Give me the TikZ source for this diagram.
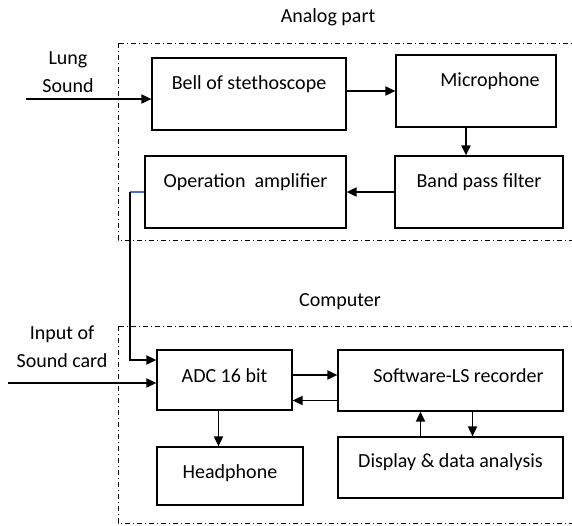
\documentclass[tikz,border=0pt]{standalone}
\usepackage{fontspec}
\setmainfont{Carlito}
\usetikzlibrary{arrows.meta, calc}
\definecolor{tapblue}{RGB}{68,114,196}
\tikzset{
  blk/.style  = {rectangle, draw=black, line width=0.6pt, fill=white, text height=7pt, inner sep=3pt},
  ablk/.style = {blk, text depth=12pt, minimum height=36pt},
  cblk/.style = {blk, text depth=5pt, minimum height=30pt},
  conn/.style = {-{Triangle[length=5pt, width=4.5pt]}, line width=0.9pt},
  grp/.style  = {line width=0.5pt, dash pattern=on 2.5pt off 1.5pt on 0.5pt off 1.5pt},
}

\begin{document}
\begin{tikzpicture}[x=0.5pt, y=-0.5pt, every node/.style={font=\fontsize{10}{14}\selectfont}]
    \clip (0,0) rectangle (572,525);

    % dash-dot frames
    \draw[grp] (118,43) rectangle (590,240);
    \draw[grp] (118,326) rectangle (590,523);
    \node (analogtxt) at (328,17) {Analog part};
    \node (comptxt) at (340,302) {Computer};

    % analog part
    \node[ablk, minimum width=97pt] (bell) at (249,94) {Bell of stethoscope};
    \node[ablk, minimum width=80pt] (mic) at (476,91) {\hspace*{14pt}Microphone};
    \node[ablk, minimum width=84pt] (bpf) at (479,192) {Band pass filter};
    \node[ablk, minimum width=100.5pt] (opamp) at (245.5,192) {Operation\ \ amplifier};

    % computer
    \node[cblk, minimum width=67.5pt] (adc) at (224.5,380) {ADC 16 bit};
    \node[cblk, minimum width=112.5pt, minimum height=30.5pt] (sw) at (450.5,380.5) {\hspace*{8pt}Software-LS recorder};
    \node[cblk, minimum width=73pt, minimum height=29pt] (head) at (230,476) {Headphone};
    \node[cblk, minimum width=112.5pt, minimum height=30.5pt, text depth=7pt] (disp) at (450.5,467.5) {Display \& data analysis};

    % inputs
    \node[align=center] (lungtxt) at (68,72) {Lung\\Sound};
    \node[align=center] (sndtxt) at (62,347) {Input of\\Sound card};
    \coordinate (lung) at (26,99);
    \coordinate (sndin) at (8,383);
    \draw[conn] (lung) -- (bell.west |- lung);
    \draw[conn] (sndin) -- (adc.west |- sndin);

    % analog chain
    \coordinate (m1) at ([xshift=-5pt]mic.south);
    \draw[conn] (bell.east |- mic.west) -- (mic.west);
    \draw[conn] (m1) -- (m1 |- bpf.north);
    \draw[conn] (bpf) -- (opamp);

    % amplifier out -> ADC
    \coordinate (tap) at (130,192);
    \coordinate (a1) at ([yshift=10pt]adc.west);
    \draw[tapblue, line width=0.9pt] (opamp.west) -- (tap);
    \draw[conn] (tap) |- (a1);

    % computer links
    \coordinate (a2) at ([yshift=2.5pt]adc.east);
    \coordinate (s1) at ([yshift=-10pt]sw.west);
    \coordinate (a3) at ([xshift=-3pt]adc.south);
    \coordinate (d1) at ([xshift=-15pt]disp.north);
    \coordinate (s2) at ([xshift=11pt]sw.south);
    \draw[conn] (a2) -- (a2 -| sw.west);
    \draw[conn] (s1) -- (s1 -| adc.east);
    \draw[conn] (a3) -- (a3 |- head.north);
    \draw[conn] (d1) -- (d1 |- sw.south);
    \draw[conn] (s2) -- (s2 |- disp.north);
\end{tikzpicture}
\end{document}
